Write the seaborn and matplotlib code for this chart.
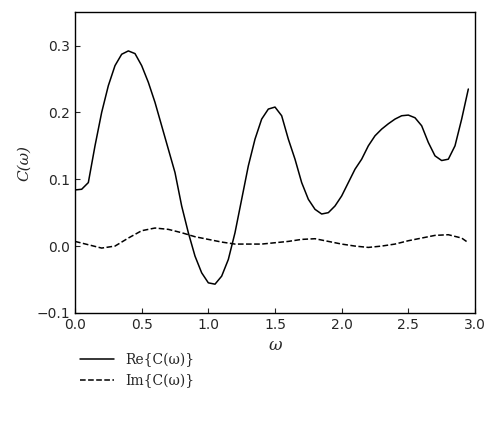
import matplotlib
matplotlib.use("Agg")
import matplotlib.pyplot as plt
import seaborn as sns
import pandas as pd

re_x = [0.0,0.05,0.1,0.15,0.2,0.25,0.3,0.35,0.4,0.45,0.5,0.55,0.6,0.65,0.7,0.75,0.8,0.85,0.9,0.95,1.0,1.05,1.1,1.15,1.2,1.25,1.3,1.35,1.4,1.45,1.5,1.55,1.6,1.65,1.7,1.75,1.8,1.85,1.9,1.95,2.0,2.05,2.1,2.15,2.2,2.25,2.3,2.35,2.4,2.45,2.5,2.55,2.6,2.65,2.7,2.75,2.8,2.85,2.9,2.95]
re_y = [0.084,0.085,0.095,0.15,0.2,0.24,0.27,0.287,0.292,0.288,0.27,0.245,0.215,0.18,0.145,0.11,0.06,0.02,-0.015,-0.04,-0.055,-0.057,-0.045,-0.02,0.02,0.07,0.12,0.16,0.19,0.205,0.208,0.195,0.16,0.13,0.095,0.07,0.055,0.048,0.05,0.06,0.075,0.095,0.115,0.13,0.15,0.165,0.175,0.183,0.19,0.195,0.196,0.192,0.18,0.155,0.135,0.128,0.13,0.15,0.19,0.235]
im_x = [0.0,0.1,0.2,0.3,0.4,0.5,0.6,0.7,0.8,0.9,1.0,1.1,1.2,1.3,1.4,1.5,1.6,1.7,1.8,1.9,2.0,2.1,2.2,2.3,2.4,2.5,2.6,2.7,2.8,2.9,2.95]
im_y = [0.007,0.002,-0.003,0.0,0.012,0.023,0.027,0.025,0.02,0.014,0.01,0.006,0.003,0.003,0.003,0.005,0.007,0.01,0.011,0.007,0.003,0.0,-0.002,0.0,0.003,0.008,0.012,0.016,0.017,0.012,0.005]

sns.set_style("ticks")
fig = plt.figure(figsize=(5, 4.34), dpi=100)
ax = fig.add_axes([0.15, 0.279, 0.80, 0.693])
sns.lineplot(x=re_x, y=re_y, ax=ax, color="black", lw=1.1, label="Re{C(ω)}")
sns.lineplot(x=im_x, y=im_y, ax=ax, color="black", lw=1.1, linestyle="--", label="Im{C(ω)}")
ax.set_xlim(0, 3.0)
ax.set_ylim(-0.1, 0.35)
ax.set_xticks([0.0,0.5,1.0,1.5,2.0,2.5,3.0])
ax.set_yticks([-0.1,0.0,0.1,0.2,0.3])
ax.tick_params(direction="in", labelsize=10, top=False, right=False)
for s in ax.spines.values():
    s.set_color("black"); s.set_linewidth(1)
ax.set_xlabel("ω", fontsize=12, style="italic", family="DejaVu Serif")
ax.set_ylabel("C(ω)", fontsize=11, style="italic", family="DejaVu Serif")
leg = ax.legend(loc="upper left", bbox_to_anchor=(-0.02, -0.09), frameon=False,
                prop={"family": "DejaVu Serif", "size": 10}, handlelength=2.5)
fig.savefig("out.png", dpi=100)
